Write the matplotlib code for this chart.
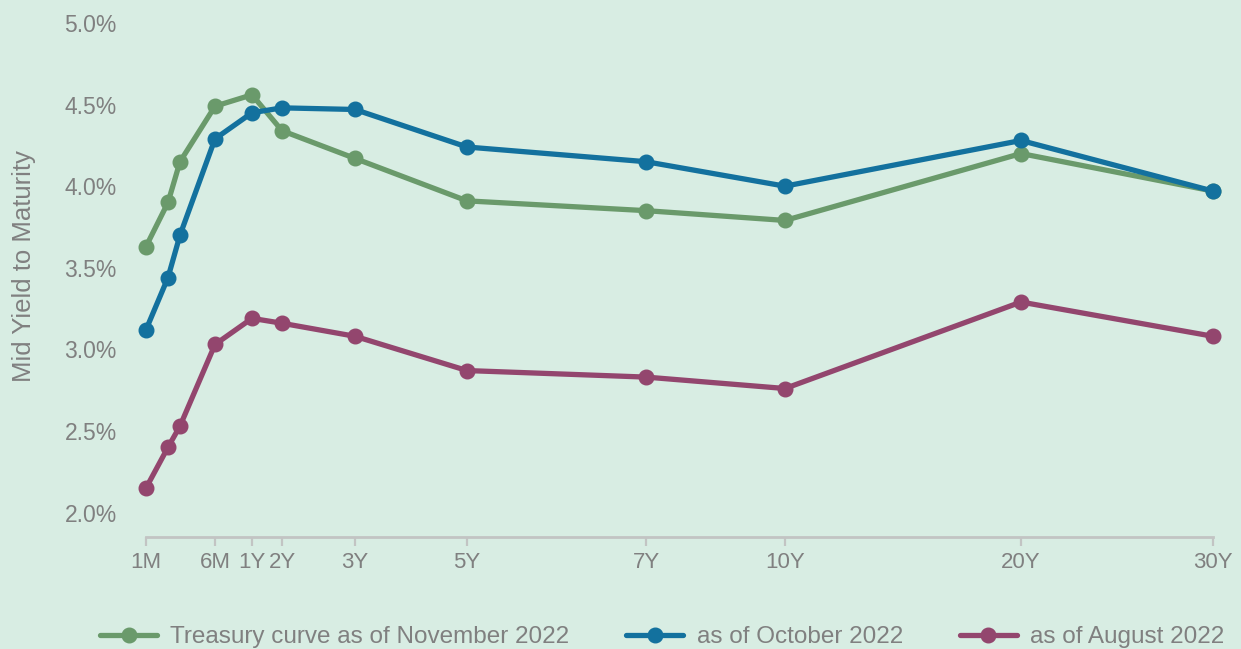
import numpy as np
import matplotlib
matplotlib.use("Agg")
import matplotlib.pyplot as plt
from matplotlib.scale import FuncScale

# ---------------- data ----------------
maturities_years = [1/12, 2/12, 3/12, 0.5, 1, 2, 3, 5, 7, 10, 20, 30]
nov_2022 = [3.63, 3.90, 4.15, 4.49, 4.56, 4.34, 4.17, 3.91, 3.85, 3.79, 4.20, 3.97]
oct_2022 = [3.12, 3.44, 3.70, 4.29, 4.45, 4.48, 4.47, 4.24, 4.15, 4.00, 4.28, 3.97]
aug_2022 = [2.15, 2.40, 2.53, 3.03, 3.19, 3.16, 3.08, 2.87, 2.83, 2.76, 3.29, 3.08]
tick_years = [1/12, 0.5, 1, 2, 3, 5, 7, 10, 20, 30]
tick_labels = ["1M", "6M", "1Y", "2Y", "3Y", "5Y", "7Y", "10Y", "20Y", "30Y"]
series_labels = ["Treasury curve as of November 2022", "as of October 2022", "as of August 2022"]
y_ticks = [2.0, 2.5, 3.0, 3.5, 4.0, 4.5, 5.0]

# custom (non-linear) maturity axis scale: knots of the scale
scale_years = [1/12, 2/12, 3/12, 0.5, 1, 2, 3, 5, 7, 10, 20, 30]
scale_pos = [0, 22, 34, 69, 106, 136, 209, 321, 500, 639, 875, 1067]

def fwd(x):
    return np.interp(x, scale_years, scale_pos)

def inv(x):
    return np.interp(x, scale_pos, scale_years)

# ---------------- style ----------------
BG = "#d8ede3"
GREEN = "#6a9a6b"
BLUE = "#13719e"
PURPLE = "#93466e"
TXT = "#808080"
AXC = "#c2c4c3"
plt.rcParams['font.family'] = ['Liberation Sans', 'DejaVu Sans']

fig = plt.figure(figsize=(12.41, 6.49), dpi=100, facecolor=BG)
ax = fig.add_axes([146/1241, 1-537/649, 1067/1241, 514/649])
ax.set_facecolor(BG)
ax.set_xscale(FuncScale(ax, (fwd, inv)))

lw = 3.8
ms = 10.5
for vals, col, lab in zip([nov_2022, oct_2022, aug_2022], [GREEN, BLUE, PURPLE], series_labels):
    ax.plot(maturities_years, vals, color=col, lw=lw, marker='o', ms=ms,
            solid_capstyle='round', label=lab, zorder=3, clip_on=False)

ax.set_xlim(1/12, 30)
ax.set_ylim(1.85, 5.0)
ax.set_xticks(tick_years)
ax.set_xticklabels(tick_labels)
ax.set_yticks(y_ticks)
ax.set_yticklabels([f"{v:.1f}%" for v in y_ticks])
ax.minorticks_off()

for s in ['top', 'right', 'left']:
    ax.spines[s].set_visible(False)
ax.spines['bottom'].set_color(AXC)
ax.spines['bottom'].set_linewidth(2.0)
ax.tick_params(axis='x', colors=AXC, length=6.5, width=1.6, labelsize=16, labelcolor=TXT, pad=4)
ax.tick_params(axis='y', length=0, labelsize=16.5, labelcolor=TXT, pad=21)

ax.set_ylabel("Mid Yield to Maturity", fontsize=18.5, color=TXT)
ax.yaxis.set_label_coords(-0.103, 0.527)

handles, labels = ax.get_legend_handles_labels()
fig.legend(handles, labels, loc='center left', bbox_to_anchor=(100/1241, 1-637/649),
           ncol=3, frameon=False, fontsize=17.5, labelcolor=TXT, borderpad=0,
           handlelength=2.35, handletextpad=0.55, columnspacing=2.33, borderaxespad=0)

fig.savefig("out.png", dpi=100, facecolor=BG)
